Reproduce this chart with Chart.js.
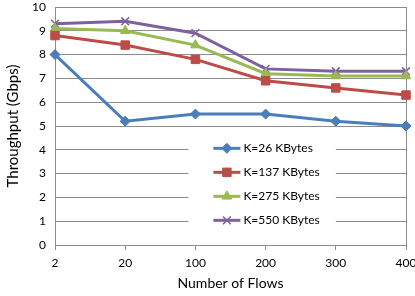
<!DOCTYPE html>
<html>
<head>
<meta charset="utf-8">
<script src="https://cdn.jsdelivr.net/npm/chart.js@4.4.1/dist/chart.umd.min.js"></script>
<style>
  html, body { margin: 0; padding: 0; background: #fff; }
  #wrap { width: 415px; height: 296px; position: relative; }
</style>
</head>
<body>
<div id="wrap"><canvas id="chart"></canvas></div>
<script>
const flows = ["2", "20", "100", "200", "300", "400"];
const k26 = [8.0, 5.2, 5.5, 5.5, 5.2, 5.0];
const k137 = [8.8, 8.4, 7.8, 6.9, 6.6, 6.3];
const k275 = [9.1, 9.0, 8.4, 7.2, 7.1, 7.1];
const k550 = [9.3, 9.4, 8.9, 7.4, 7.3, 7.3];
const seriesNames = ["K=26 KBytes", "K=137 KBytes", "K=275 KBytes", "K=550 KBytes"];
const yTicks = [0, 1, 2, 3, 4, 5, 6, 7, 8, 9, 10];

const FONT = "Lato, 'Open Sans', sans-serif";
const GRID = "#8c8c8c";

function makeSet(label, data, color, pointStyle, radius) {
  return {
    label,
    data,
    borderColor: color,
    backgroundColor: color,
    borderWidth: 3,
    pointStyle,
    pointRadius: radius,
    pointBorderWidth: pointStyle === "crossRot" ? 1.5 : 1,
    pointBorderColor: color,
    tension: 0
  };
}

// legend box drawn inside the plot, like the original
const insideLegend = {
  id: "insideLegend",
  afterDraw(chart) {
    const ctx = chart.ctx;
    const a = chart.chartArea;
    const w = a.right - a.left;
    const h = a.bottom - a.top;
    const bx = a.left + w * 0.38;
    const by = a.top + h * 0.535;
    const bw = w * 0.42;
    const bh = h * 0.41;
    ctx.save();
    ctx.fillStyle = "#fff";
    ctx.fillRect(bx, by, bw, bh);
    chart.data.datasets.forEach((ds, i) => {
      const y = by + 14 + i * 24;
      const x0 = bx + 25;
      ctx.strokeStyle = ds.borderColor;
      ctx.fillStyle = ds.backgroundColor;
      ctx.lineWidth = 3;
      ctx.beginPath();
      ctx.moveTo(x0, y);
      ctx.lineTo(x0 + 27, y);
      ctx.stroke();
      ctx.lineWidth = ds.pointBorderWidth;
      Chart.helpers.drawPoint(ctx, {
        pointStyle: ds.pointStyle,
        radius: ds.pointRadius,
        borderWidth: ds.pointBorderWidth
      }, x0 + 13.5, y);
      ctx.fillStyle = "#000";
      ctx.font = "12px " + FONT;
      ctx.textBaseline = "middle";
      ctx.fillText(ds.label, x0 + 30, y);
    });
    ctx.restore();
  }
};

// right border of the plot area
const frame = {
  id: "frame",
  beforeDatasetsDraw(chart) {
    const ctx = chart.ctx;
    const a = chart.chartArea;
    ctx.save();
    ctx.strokeStyle = GRID;
    ctx.lineWidth = 1;
    ctx.beginPath();
    ctx.moveTo(Math.round(a.right) + 0.5, a.top);
    ctx.lineTo(Math.round(a.right) + 0.5, a.bottom);
    ctx.stroke();
    ctx.restore();
  }
};

new Chart(document.getElementById("chart"), {
  type: "line",
  data: {
    labels: flows,
    datasets: [
      makeSet(seriesNames[0], k26, "#4a7ebb", "rectRot", 5),
      makeSet(seriesNames[1], k137, "#be4b48", "rect", 6),
      makeSet(seriesNames[2], k275, "#98b954", "triangle", 5.5),
      makeSet(seriesNames[3], k550, "#7d60a0", "crossRot", 5.5)
    ]
  },
  options: {
    responsive: true,
    maintainAspectRatio: false,
    animation: false,
    layout: { padding: { top: 5, right: 0, left: 0, bottom: 0 } },
    plugins: {
      legend: { display: false },
      tooltip: { enabled: false }
    },
    scales: {
      x: {
        offset: false,
        grid: {
          display: true,
          drawOnChartArea: false,
          drawTicks: true,
          tickLength: 5,
          color: GRID
        },
        border: { color: GRID },
        ticks: { color: "#000", font: { family: FONT, size: 12 }, padding: 6, maxRotation: 0 },
        title: { display: true, text: "Number of Flows", color: "#000", font: { family: FONT, size: 14 }, padding: { top: 4 } },
        afterFit(scale) {
          scale.height = 51;
          scale.paddingRight = 9;
          scale.paddingLeft = 0;
        }
      },
      y: {
        min: 0,
        max: 10,
        afterBuildTicks(scale) { scale.ticks = yTicks.map(v => ({ value: v })); },
        grid: { color: GRID, drawTicks: false },
        border: { color: GRID },
        ticks: { color: "#000", font: { family: FONT, size: 12 }, padding: 9 },
        title: { display: true, text: "Throughput (Gbps)", color: "#000", font: { family: FONT, size: 15 }, padding: { bottom: 3 } },
        afterFit(scale) {
          scale.width = 55;
          scale.paddingTop = 0;
          scale.paddingBottom = 0;
        }
      }
    }
  },
  plugins: [frame, insideLegend]
});
</script>
</body>
</html>
